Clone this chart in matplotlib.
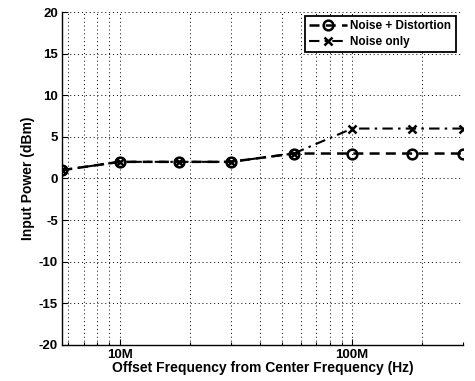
import matplotlib
matplotlib.use("Agg")
import matplotlib.pyplot as plt
from matplotlib.ticker import LogLocator, NullFormatter

freq_hz = [5.65e6, 10e6, 18e6, 30e6, 56e6, 100e6, 180e6, 300e6]
noise_dist = [1, 2, 2, 2, 3, 3, 3, 3]
noise_only = [1, 2, 2, 2, 3, 6, 6, 6]
x_tick_vals = [10e6, 100e6]
x_tick_labels = ["10M", "100M"]
y_ticks = [-20, -15, -10, -5, 0, 5, 10, 15, 20]

plt.rcParams['font.family'] = ['Liberation Sans', 'DejaVu Sans']
plt.rcParams['font.weight'] = 'bold'

fig = plt.figure(figsize=(4.75, 3.81), dpi=100)
ax = fig.add_axes([0.1305, 0.0945, 0.8445, 0.874])

ax.plot(freq_hz, noise_dist, linestyle='--', color='black', lw=1.8,
        marker='o', markersize=7, markerfacecolor='none', markeredgewidth=1.8,
        dashes=(4, 2.5), label='Noise + Distortion')
ax.plot(freq_hz, noise_only, linestyle='-.', color='black', lw=1.5,
        marker='x', markersize=6, markeredgewidth=1.8,
        dashes=(5, 2.5, 1.2, 2.5), label='Noise only')

ax.set_xscale('log')
ax.set_xlim(freq_hz[0], freq_hz[-1])
ax.set_ylim(-20, 20)
ax.set_xticks(x_tick_vals)
ax.set_xticklabels(x_tick_labels)
ax.xaxis.set_minor_locator(LogLocator(base=10, subs=range(2, 10)))
ax.xaxis.set_minor_formatter(NullFormatter())
ax.set_yticks(y_ticks)
ax.set_yticklabels([str(v) for v in y_ticks])

ax.grid(True, which='major', axis='both', linestyle=(0, (1, 3)), color='black', lw=0.7)
ax.grid(True, which='minor', axis='x', linestyle=(0, (1, 3)), color='black', lw=0.7)

for s in ['top', 'right']:
    ax.spines[s].set_visible(False)
for s in ['left', 'bottom']:
    ax.spines[s].set_linewidth(1.0)

ax.tick_params(which='both', direction='in', labelsize=9.5, width=0.8, pad=3)
ax.tick_params(which='major', length=4)
ax.tick_params(which='minor', length=2)
for lab in ax.get_xticklabels() + ax.get_yticklabels():
    lab.set_fontweight('bold')

ax.set_xlabel('Offset Frequency from Center Frequency (Hz)', fontsize=10,
              fontweight='bold', labelpad=0)
ax.set_ylabel('Input Power (dBm)', fontsize=10, fontweight='bold', labelpad=3)

leg = ax.legend(loc='upper right', fontsize=8.5, frameon=True, fancybox=False,
                borderpad=0.35, handlelength=3.2, handletextpad=0.3,
                labelspacing=0.35, borderaxespad=0.3, framealpha=1,
                bbox_to_anchor=(0.99, 1.0))
leg.get_frame().set_edgecolor('black')
leg.get_frame().set_linewidth(1.3)

fig.savefig('out.png', dpi=100)
